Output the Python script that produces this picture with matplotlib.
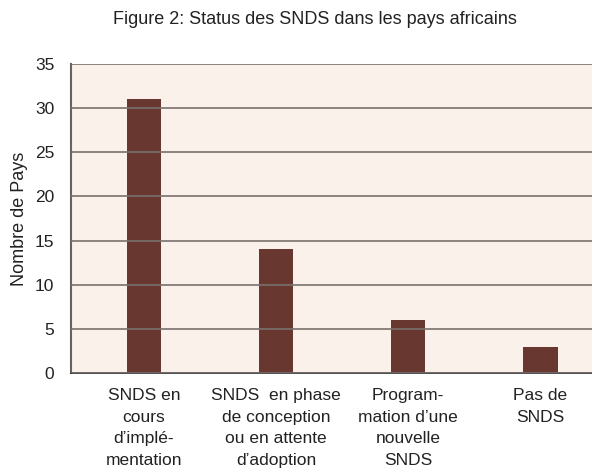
import matplotlib.pyplot as plt

plt.rcParams['font.family'] = ['Liberation Sans', 'DejaVu Sans']

categories = [
    "SNDS en\ncours\nd\u2019impl\u00e9-\nmentation",
    "SNDS  en phase\nde conception\nou en attente\nd\u2019adoption",
    "Program-\nmation d\u2019une\nnouvelle\nSNDS",
    "Pas de\nSNDS",
]
values = [31, 14, 6, 3]
yticks = [0, 5, 10, 15, 20, 25, 30, 35]

fig = plt.figure(figsize=(5.92, 4.70), dpi=100)
ax = fig.add_axes([0.12, 0.2064, 0.88, 0.6574])
ax.set_facecolor('#fbf1eb')

x = range(len(values))
ax.bar(x, values, width=0.26, color='#673730', zorder=2)

ax.set_ylim(0, 35)
ax.set_xlim(-0.55, 3.39)
ax.set_yticks(yticks)
ax.set_xticks(list(x))
ax.set_xticklabels(categories, fontsize=12.5, color='#222222', linespacing=1.55)
ax.tick_params(axis='y', labelsize=12.5, colors='#222222', length=0, pad=12)
ax.tick_params(axis='x', length=0, pad=11)

ax.yaxis.grid(True, color='#7a706c', lw=1.2, zorder=3)
ax.set_axisbelow(False)

for s in ['top', 'right']:
    ax.spines[s].set_visible(False)
ax.spines['left'].set_color('#6a6260')
ax.spines['left'].set_linewidth(1.5)
ax.spines['bottom'].set_color('#333333')
ax.spines['bottom'].set_linewidth(1.2)

ax.set_ylabel('Nombre de Pays', fontsize=13, color='#222222', labelpad=5)
fig.text(0.532, 0.958, 'Figure 2: Status des SNDS dans les pays africains',
         ha='center', va='center', fontsize=13, color='#222222')

plt.savefig('out.png', dpi=100)
